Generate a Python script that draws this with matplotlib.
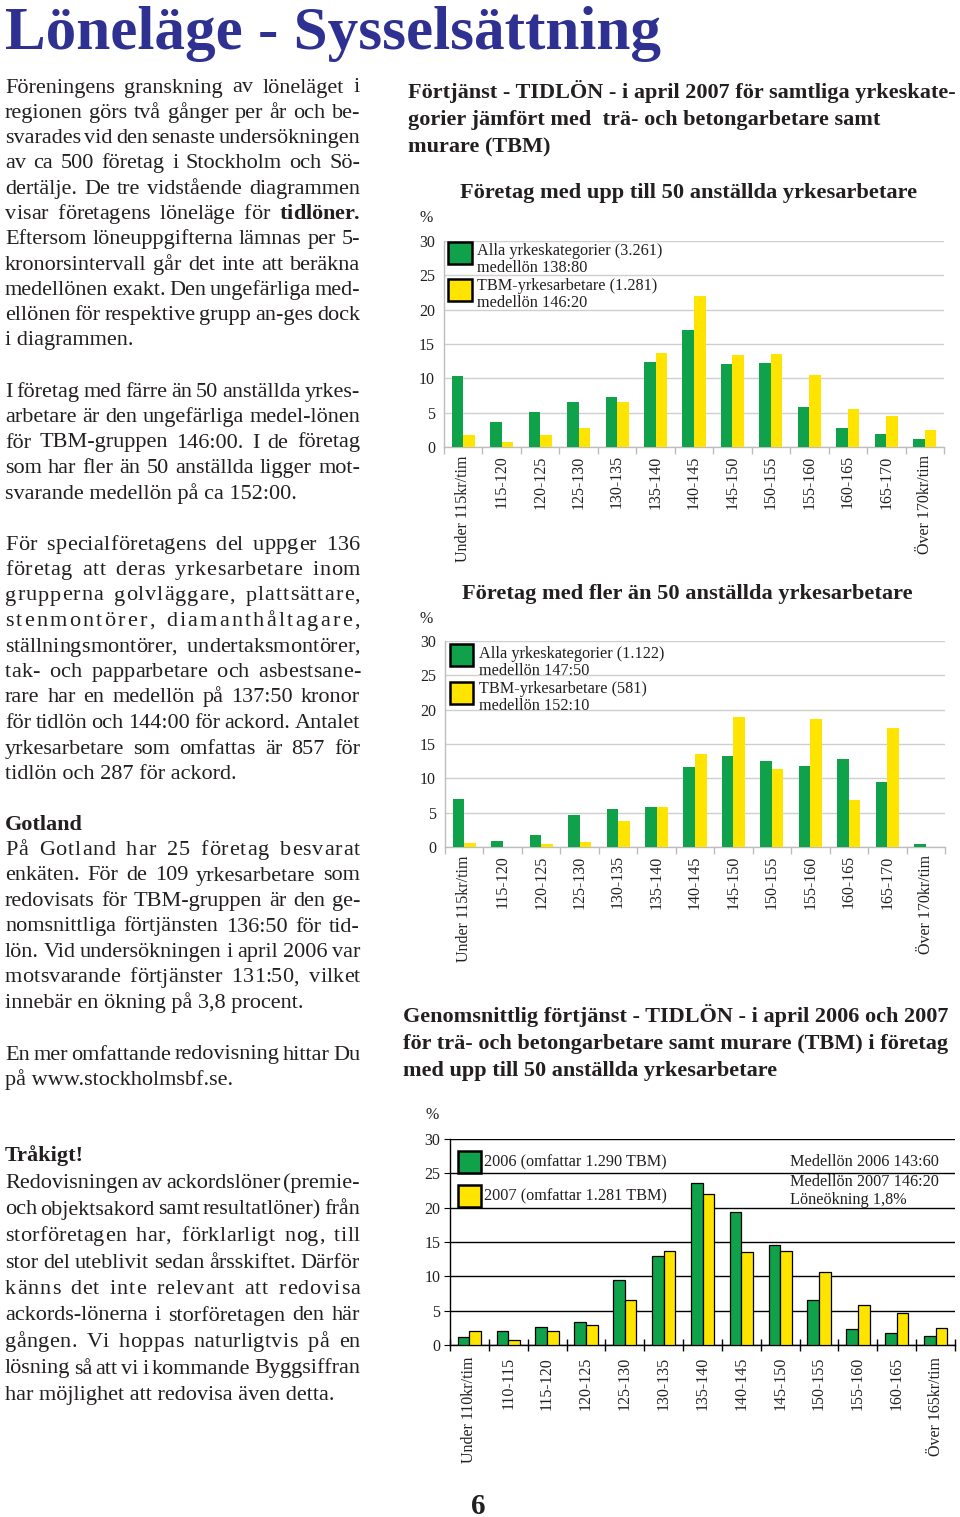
import numpy as np
import matplotlib
matplotlib.use('Agg')
import matplotlib.pyplot as plt
from matplotlib.patches import Rectangle

plt.rcParams['font.family'] = ['Liberation Serif', 'DejaVu Serif']

W, H = 960, 1517
GREEN = '#10a24b'
YELLOW = '#ffe400'
BLUE = '#2e3192'
INK = '#231f20'

# ---------------- data ----------------
cats_a = ['Under 115kr/tim', '115-120', '120-125', '125-130', '130-135', '135-140',
          '140-145', '145-150', '150-155', '155-160', '160-165', '165-170', 'Över 170kr/tim']
small_all = [10.3, 3.6, 5.1, 6.6, 7.3, 12.4, 17.0, 12.1, 12.3, 5.8, 2.8, 1.9, 1.2]
small_tbm = [1.8, 0.8, 1.8, 2.8, 6.5, 13.7, 22.0, 13.4, 13.6, 10.5, 5.5, 4.5, 2.5]
large_all = [7.0, 0.9, 1.8, 4.7, 5.6, 5.8, 11.7, 13.3, 12.5, 11.8, 12.8, 9.4, 0.4]
large_tbm = [0.6, 0.0, 0.5, 0.8, 3.8, 5.8, 13.6, 18.9, 11.4, 18.6, 6.9, 17.3, 0.0]

cats_b = ['Under 110kr/tim', '110-115', '115-120', '120-125', '125-130', '130-135', '135-140',
          '140-145', '145-150', '150-155', '155-160', '160-165', 'Över 165kr/tim']
tbm_2006 = [1.1, 2.1, 2.6, 3.4, 9.5, 13.0, 23.6, 19.4, 14.6, 6.5, 2.4, 1.7, 1.3]
tbm_2007 = [2.1, 0.8, 2.1, 2.9, 6.5, 13.7, 22.0, 13.5, 13.7, 10.6, 5.8, 4.7, 2.5]

y_ticks = [0, 5, 10, 15, 20, 25, 30]

legend_small = ['Alla yrkeskategorier (3.261)', 'medellön 138:80',
                'TBM-yrkesarbetare (1.281)', 'medellön 146:20']
legend_large = ['Alla yrkeskategorier (1.122)', 'medellön 147:50',
                'TBM-yrkesarbetare (581)', 'medellön 152:10']
legend_years = ['2006 (omfattar 1.290 TBM)', '2007 (omfattar 1.281 TBM)']
notes_years = ['Medellön 2006 143:60', 'Medellön 2007 146:20', 'Löneökning 1,8%']

title = 'Löneläge - Sysselsättning'
heading_1 = ['Förtjänst - TIDLÖN - i april 2007 för samtliga yrkeskate-',
             'gorier jämfört med  trä- och betongarbetare samt',
             'murare (TBM)']
heading_3 = ['Genomsnittlig förtjänst - TIDLÖN - i april 2006 och 2007',
             'för trä- och betongarbetare samt murare (TBM) i företag',
             'med upp till 50 anställda yrkesarbetare']
chart_title_1 = 'Företag med upp till 50 anställda yrkesarbetare'
chart_title_2 = 'Företag med fler än 50 anställda yrkesarbetare'

para_1 = ['Föreningens granskning av löneläget i',
          'regionen görs två gånger per år och be-',
          'svarades vid den senaste undersökningen',
          'av ca 500 företag i Stockholm och Sö-',
          'dertälje. De tre vidstående diagrammen',
          'visar företagens löneläge för **tidlöner.**',
          'Eftersom löneuppgifterna lämnas per 5-',
          'kronorsintervall går det inte att beräkna',
          'medellönen exakt. Den ungefärliga med-',
          'ellönen för respektive grupp an-ges dock',
          'i diagrammen.']
para_2 = ['I företag med färre än 50 anställda yrkes-',
          'arbetare är den ungefärliga medel-lönen',
          'för TBM-gruppen 146:00. I de företag',
          'som har fler än 50 anställda ligger mot-',
          'svarande medellön på ca 152:00.']
para_3 = ['För specialföretagens del uppger 136',
          'företag att deras yrkesarbetare inom',
          'grupperna golvläggare, plattsättare,',
          'stenmontörer, diamanthåltagare,',
          'ställningsmontörer, undertaksmontörer,',
          'tak- och papparbetare och asbestsane-',
          'rare har en medellön på 137:50 kronor',
          'för tidlön och 144:00 för ackord. Antalet',
          'yrkesarbetare som omfattas är 857 för',
          'tidlön och 287 för ackord.']
para_4 = ['##Gotland',
          'På Gotland har 25 företag besvarat',
          'enkäten. För de 109 yrkesarbetare som',
          'redovisats för TBM-gruppen är den ge-',
          'nomsnittliga förtjänsten 136:50 för tid-',
          'lön. Vid undersökningen i april 2006 var',
          'motsvarande förtjänster 131:50, vilket',
          'innebär en ökning på 3,8 procent.']
para_5 = ['En mer omfattande redovisning hittar Du',
          'på www.stockholmsbf.se.']
para_6 = ['##Tråkigt!',
          'Redovisningen av ackordslöner (premie-',
          'och objektsakord samt resultatlöner) från',
          'storföretagen har, förklarligt nog, till',
          'stor del uteblivit sedan årsskiftet. Därför',
          'känns det inte relevant att redovisa',
          'ackords-lönerna i storföretagen den här',
          'gången. Vi hoppas naturligtvis på en',
          'lösning så att vi i kommande Byggsiffran',
          'har möjlighet att redovisa även detta.']

# ---------------- helpers ----------------
fig = plt.figure(figsize=(W / 100, H / 100), dpi=100)
fig.patch.set_facecolor('white')
renderer = fig.canvas.get_renderer()
_cache = {}


def measure(s, size, weight='normal'):
    key = (s, round(size, 4), weight)
    if key not in _cache:
        t = fig.text(0, 0, s, fontsize=size, fontweight=weight)
        _cache[key] = t.get_window_extent(renderer).width
        t.remove()
    return _cache[key]


def fit(s, width, weight='normal'):
    return 20.0 * width / measure(s, 20, weight)


def put(x, y, s, size, weight='normal', color=INK, ha='left', va='baseline'):
    fig.text(x / W, 1 - y / H, s, fontsize=size, fontweight=weight,
             color=color, ha=ha, va=va)


def justify(x0, x1, y, line, size):
    words = []
    for tok in line.split(' '):
        if tok.startswith('**'):
            words.append((tok.strip('*'), 'bold'))
        else:
            words.append((tok, 'normal'))
    n = len(words)
    widths = [measure(w, size, wt) for w, wt in words]
    s0 = measure('a b', size) - measure('ab', size)
    avail = x1 - x0
    gap = (avail - sum(widths)) / max(n - 1, 1)
    max_gap = 1.7 * s0
    if gap <= max_gap:
        x = x0
        for (w, wt), ww in zip(words, widths):
            put(x, y, w, size, wt)
            x += ww + max(gap, 2.0)
        return
    # letter spacing needed
    char_w = [[measure(c, size, wt) for c in w] for w, wt in words]
    nat = sum(sum(cw) for cw in char_w)
    n_letter_gaps = sum(len(w) - 1 for w, _ in words)
    # word gap = max_gap + t, letter gap = t
    t = (avail - nat - (n - 1) * max_gap) / (n_letter_gaps + (n - 1))
    x = x0
    for (w, wt), cws in zip(words, char_w):
        for c, cw in zip(w, cws):
            put(x, y, c, size, wt)
            x += cw + t
        x += max_gap


def block(y0, step, lines, size, x0=5, x1=360):
    for i, line in enumerate(lines):
        y = y0 + i * step
        if line.startswith('##'):
            put(x0, y, line[2:], size, 'bold')
        elif i == len(lines) - 1:
            put(x0, y, line.replace('**', ''), size)
        else:
            justify(x0, x1, y, line, size)


# ---------------- text ----------------
s_title = fit(title, 655, 'bold')
put(5, 49, title, s_title, 'bold', color=BLUE)

s_body = fit('innebär en ökning på 3,8 procent.', 299)
block(92.5, 25.3, para_1, s_body)
block(396.5, 25.5, para_2, s_body)
block(549.5, 25.5, para_3, s_body)
block(829.5, 25.5, para_4, s_body)
block(1059.5, 25.5, para_5, s_body)
block(1161.5, 26.5, para_6, s_body)

s_head = fit(heading_1[0], 547, 'bold')
for i, line in enumerate(heading_1):
    put(408, 98 + 27 * i, line, s_head, 'bold')
for i, line in enumerate(heading_3):
    put(403, 1022 + 27 * i, line, s_head, 'bold')

s_ct = fit(chart_title_1, 456, 'bold')
put(689, 198, chart_title_1, s_ct, 'bold', ha='center')
put(687, 599, chart_title_2, s_ct, 'bold', ha='center')

s_small = fit('Under 115kr/tim', 107)
s_leg = fit(legend_small[0], 185)

put(426, 222, '%', s_small, ha='center')
put(426, 623, '%', s_small, ha='center')
put(432, 1119, '%', s_small, ha='center')

put(478, 1514, '6', 21, 'bold', ha='center')


def legend_box(x, y, w, h, color):
    fig.add_artist(Rectangle((x / W, 1 - (y + h) / H), w / W, h / H,
                             transform=fig.transFigure, facecolor=color,
                             edgecolor='black', lw=1.8, zorder=5))


# ---------------- charts ----------------
def styled_bars(ax, cats, g, yv, boxed):
    x = np.arange(len(cats))
    ec = 'black' if boxed else 'none'
    lw = 0.9 if boxed else 0
    ax.bar(x - 0.15, g, 0.3, color=GREEN, edgecolor=ec, linewidth=lw, zorder=3)
    ax.bar(x + 0.15, yv, 0.3, color=YELLOW, edgecolor=ec, linewidth=lw, zorder=3)
    ax.set_xlim(-0.5, len(cats) - 0.5)
    ax.set_ylim(0, 30)
    ax.set_yticks(y_ticks)
    ax.set_xticks(x)
    ax.set_xticklabels(cats, rotation=90, va='top', ha='center')
    ax.set_xticks(np.arange(-0.5, len(cats), 1.0), minor=True)
    ax.set_facecolor('none')
    ax.set_axisbelow(True)
    for s in ['top', 'right']:
        ax.spines[s].set_visible(False)
    if boxed:
        ax.yaxis.grid(True, color='black', lw=1.0)
        for s in ['left', 'bottom']:
            ax.spines[s].set_color('black')
            ax.spines[s].set_linewidth(1.0)
        ax.tick_params(axis='y', length=4, direction='out', color='black',
                       pad=3, labelsize=s_small, labelcolor=INK)
        ax.tick_params(axis='x', which='major', length=0, pad=8.5,
                       labelsize=s_small, labelcolor=INK)
        ax.tick_params(axis='x', which='minor', length=8, direction='inout',
                       color='black', width=1.0)
    else:
        ax.yaxis.grid(True, color='#cfcfcf', lw=1.0)
        for s in ['left', 'bottom']:
            ax.spines[s].set_color('#bdbdbd')
            ax.spines[s].set_linewidth(1.0)
        ax.tick_params(axis='y', length=0, pad=6.5, labelsize=s_small, labelcolor=INK)
        ax.tick_params(axis='x', which='major', length=0, pad=6,
                       labelsize=s_small, labelcolor=INK)
        ax.tick_params(axis='x', which='minor', length=5, direction='out',
                       color='#bdbdbd', width=1.0)


ax1 = fig.add_axes([444 / W, 1 - 447 / H, 500 / W, 206 / H])
styled_bars(ax1, cats_a, small_all, small_tbm, False)
ax2 = fig.add_axes([445 / W, 1 - 847 / H, 500 / W, 206 / H])
styled_bars(ax2, cats_a, large_all, large_tbm, False)
ax3 = fig.add_axes([450 / W, 1 - 1345 / H, 505 / W, 206 / H])
styled_bars(ax3, cats_b, tbm_2006, tbm_2007, True)

# legends chart 1
legend_box(448, 242, 24, 22, GREEN)
legend_box(448, 279, 24, 22, YELLOW)
for t, yb in zip(legend_small, [255, 272, 290, 307]):
    put(477, yb, t, s_leg)
# legends chart 2
legend_box(450, 644, 23, 22, GREEN)
legend_box(450, 682, 23, 22, YELLOW)
for t, yb in zip(legend_large, [658, 675, 693, 710]):
    put(479, yb, t, s_leg)
# legends chart 3
legend_box(458, 1151, 23, 22, GREEN)
legend_box(458, 1185, 23, 22, YELLOW)
for t, yb in zip(legend_years, [1166.5, 1200]):
    put(484, yb, t, s_leg)
for t, yb in zip(notes_years, [1166.5, 1186, 1204.5]):
    put(790, yb, t, s_leg)

fig.savefig('out.png', dpi=100, facecolor='white')
